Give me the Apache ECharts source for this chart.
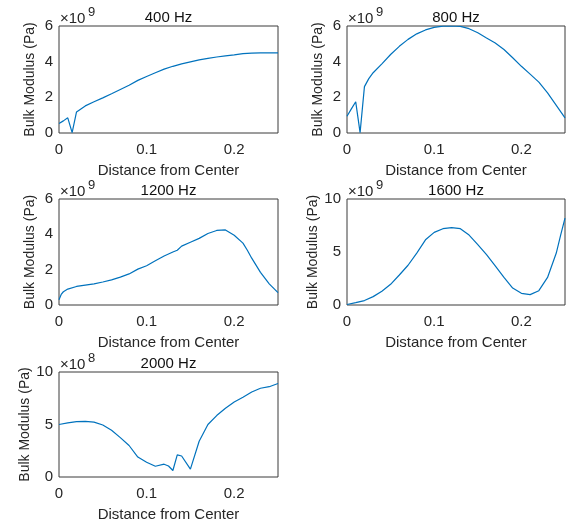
<!DOCTYPE html>
<html>
<head>
<meta charset="utf-8">
<script src="https://cdn.jsdelivr.net/npm/echarts@6/dist/echarts.min.js"></script>
<style>
html,body{margin:0;padding:0;background:#fff;}
#chart{width:572px;height:523px;}
</style>
</head>
<body>
<div id="chart"></div>
<script>
// ---- Data (y in units of the axis exponent) ----
const titles = ["400 Hz", "800 Hz", "1200 Hz", "1600 Hz", "2000 Hz"];
const exponents = ["9", "9", "9", "9", "8"];
const yMaxes = [6, 6, 6, 10, 10];
const yIntervals = [2, 2, 2, 5, 5];
const xTicks = [0, 0.1, 0.2];

const x400 = [0, 0.005, 0.01, 0.015, 0.02, 0.025, 0.03, 0.04, 0.05, 0.06, 0.07, 0.08, 0.09, 0.10, 0.11, 0.12, 0.13, 0.14, 0.15, 0.16, 0.17, 0.18, 0.19, 0.20, 0.21, 0.22, 0.23, 0.24, 0.25];
const y400 = [0.53, 0.68, 0.85, 0.02, 1.18, 1.35, 1.52, 1.75, 1.97, 2.2, 2.44, 2.68, 2.95, 3.17, 3.38, 3.58, 3.74, 3.88, 3.99, 4.1, 4.18, 4.26, 4.33, 4.38, 4.45, 4.48, 4.49, 4.49, 4.49];

const x800 = [0, 0.005, 0.01, 0.015, 0.02, 0.025, 0.03, 0.04, 0.05, 0.06, 0.07, 0.08, 0.09, 0.10, 0.11, 0.12, 0.13, 0.14, 0.15, 0.16, 0.17, 0.18, 0.19, 0.20, 0.21, 0.22, 0.23, 0.24, 0.25];
const y800 = [0.94, 1.35, 1.75, 0.02, 2.6, 3.05, 3.38, 3.88, 4.4, 4.86, 5.25, 5.56, 5.78, 5.92, 5.99, 6.0, 5.98, 5.85, 5.62, 5.33, 5.05, 4.68, 4.22, 3.74, 3.3, 2.85, 2.25, 1.55, 0.85];

const x1200 = [0, 0.0025, 0.005, 0.01, 0.02, 0.03, 0.04, 0.05, 0.06, 0.07, 0.08, 0.09, 0.10, 0.11, 0.12, 0.13, 0.135, 0.14, 0.15, 0.16, 0.17, 0.18, 0.19, 0.20, 0.21, 0.215, 0.22, 0.23, 0.24, 0.25];
const y1200 = [0.3, 0.6, 0.75, 0.9, 1.05, 1.13, 1.2, 1.3, 1.42, 1.58, 1.76, 2.03, 2.22, 2.5, 2.77, 3.0, 3.1, 3.33, 3.55, 3.77, 4.05, 4.22, 4.25, 3.95, 3.5, 3.1, 2.65, 1.85, 1.2, 0.7];

const x1600 = [0, 0.01, 0.02, 0.03, 0.04, 0.05, 0.06, 0.07, 0.08, 0.09, 0.10, 0.11, 0.12, 0.13, 0.14, 0.15, 0.16, 0.17, 0.18, 0.19, 0.20, 0.21, 0.22, 0.23, 0.24, 0.245, 0.25];
const y1600 = [0.05, 0.22, 0.42, 0.79, 1.3, 1.95, 2.83, 3.75, 4.9, 6.15, 6.85, 7.2, 7.3, 7.2, 6.6, 5.7, 4.75, 3.7, 2.6, 1.6, 1.1, 0.98, 1.35, 2.6, 4.9, 6.6, 8.2];

const x2000 = [0, 0.01, 0.02, 0.03, 0.04, 0.05, 0.06, 0.07, 0.08, 0.09, 0.10, 0.11, 0.12, 0.125, 0.13, 0.135, 0.14, 0.15, 0.16, 0.17, 0.18, 0.19, 0.20, 0.21, 0.22, 0.23, 0.24, 0.25];
const y2000 = [5.0, 5.15, 5.27, 5.3, 5.22, 4.95, 4.45, 3.75, 3.0, 1.9, 1.4, 1.02, 1.22, 1.05, 0.62, 2.1, 2.0, 0.75, 3.4, 5.0, 5.85, 6.55, 7.15, 7.6, 8.1, 8.45, 8.6, 8.9];

const seriesX = [x400, x800, x1200, x1600, x2000];
const seriesY = [y400, y800, y1200, y1600, y2000];

// ---- Layout ----
const grids = [
  {left: 59, top: 26, width: 219, height: 107},
  {left: 347, top: 26, width: 218, height: 107},
  {left: 59, top: 199, width: 219, height: 106},
  {left: 347, top: 199, width: 218, height: 106},
  {left: 59, top: 372, width: 219, height: 106}
];

const FONT = '"Liberation Sans", Arial, Helvetica, sans-serif';
const TXT = '#262626';
const FS = 15;

const option = {
  animation: false,
  backgroundColor: '#ffffff',
  grid: [], xAxis: [], yAxis: [], series: [], graphic: []
};

grids.forEach((g, i) => {
  option.grid.push({left: g.left, top: g.top, width: g.width, height: g.height,
    show: true, borderColor: '#3a3a3a', borderWidth: 1, backgroundColor: '#fff', containLabel: false});
  option.xAxis.push({
    type: 'value', gridIndex: i, min: 0, max: 0.25, interval: 0.1,
    axisLine: {show: false}, axisTick: {show: false}, splitLine: {show: false},
    axisLabel: {color: TXT, fontFamily: FONT, fontSize: FS, margin: 9, showMaxLabel: false,
      formatter: v => { const r = Math.round(v * 10) / 10; return xTicks.some(t => Math.abs(t - v) < 1e-9) ? String(r) : ''; }},
    name: 'Distance from Center', nameLocation: 'middle', nameGap: 30,
    nameTextStyle: {color: TXT, fontFamily: FONT, fontSize: FS}
  });
  option.yAxis.push({
    type: 'value', gridIndex: i, min: 0, max: yMaxes[i], interval: yIntervals[i],
    axisLine: {show: false}, axisTick: {show: false}, splitLine: {show: false},
    axisLabel: {color: TXT, fontFamily: FONT, fontSize: FS, margin: 6},
    name: 'Bulk Modulus (Pa)', nameLocation: 'middle', nameGap: 22,
    nameTextStyle: {color: TXT, fontFamily: FONT, fontSize: 14}
  });
  option.series.push({
    type: 'line', xAxisIndex: i, yAxisIndex: i, showSymbol: false, symbol: 'none',
    lineStyle: {color: '#0072BD', width: 1.2}, clip: true,
    data: seriesX[i].map((x, k) => [x, seriesY[i][k]])
  });
  option.graphic.push({
    type: 'text', x: g.left + g.width / 2, y: g.top - 16,
    style: {text: titles[i], fill: '#111', font: FS + 'px ' + FONT, align: 'center', verticalAlign: 'top'}
  });
  option.graphic.push({
    type: 'text', x: g.left + 1, y: g.top - 15,
    style: {text: '\u00d710', fill: TXT, font: FS + 'px ' + FONT, verticalAlign: 'top'}
  });
  option.graphic.push({
    type: 'text', x: g.left + 29, y: g.top - 20,
    style: {text: exponents[i], fill: TXT, font: '13px ' + FONT, verticalAlign: 'top'}
  });
});

const chart = echarts.init(document.getElementById('chart'), null, {renderer: 'canvas'});
chart.setOption(option);
</script>
</body>
</html>
